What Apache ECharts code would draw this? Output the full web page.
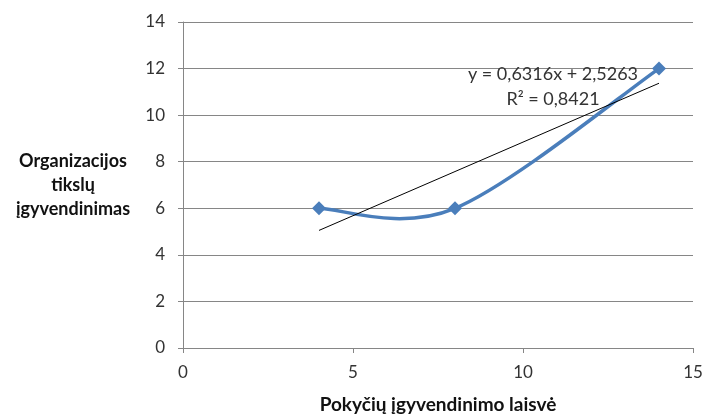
<!DOCTYPE html>
<html>
<head>
<meta charset="utf-8">
<script src="https://cdn.jsdelivr.net/npm/echarts@6/dist/echarts.min.js"></script>
<style>
  html, body { margin: 0; padding: 0; background: #fff; }
  #main { width: 707px; height: 419px; }
</style>
</head>
<body>
<div id="main"></div>
<script>
// data
const xValues = [4, 8, 14];
const yValues = [6, 6, 12];
// linear trendline ends (y = 0,6316x + 2,5263)
const trendX = [4, 14];
const trendY = [5.05, 11.37];
const equationLines = ["y = 0,6316x + 2,5263", "R² = 0,8421"];
const xName = "Pokyčių įgyvendinimo laisvė";
const yName = "Organizacijos\ntikslų\nįgyvendinimas";

const font = "Lato, 'Open Sans', sans-serif";
const gridColor = "#868686";
const blue = "#4a7ebb";

const myChart = echarts.init(document.getElementById("main"));

// Excel-like smoothed line: cubic bezier between points, tangents from neighbours (1/6)
function renderSmooth(params, api) {
  const i = params.dataIndex;
  if (i === 0) return null;
  const pt = (k) => {
    const j = Math.max(0, Math.min(xValues.length - 1, k));
    return api.coord([xValues[j], yValues[j]]);
  };
  const p0 = pt(i - 2), p1 = pt(i - 1), p2 = pt(i), p3 = pt(i + 1);
  return {
    type: "bezierCurve",
    shape: {
      x1: p1[0], y1: p1[1],
      x2: p2[0], y2: p2[1],
      cpx1: p1[0] + (p2[0] - p0[0]) / 6,
      cpy1: p1[1] + (p2[1] - p0[1]) / 6,
      cpx2: p2[0] - (p3[0] - p1[0]) / 6,
      cpy2: p2[1] - (p3[1] - p1[1]) / 6,
    },
    style: { stroke: blue, lineWidth: 3.5, fill: null },
  };
}

let option = {
  animation: false,
  grid: { left: 183, right: 14, top: 22, bottom: 67 },
  xAxis: {
    type: "value",
    min: 0,
    max: 15,
    interval: 5,
    name: xName,
    nameLocation: "middle",
    nameGap: 47,
    nameTextStyle: {
      fontFamily: font,
      fontWeight: "bold",
      fontSize: 19,
      color: "#111",
      verticalAlign: "top",
    },
    axisLine: { show: true, lineStyle: { color: gridColor } },
    axisTick: { show: true, length: 5, lineStyle: { color: gridColor } },
    axisLabel: { fontFamily: font, fontSize: 17, color: "#333", margin: 16 },
    splitLine: { show: false },
  },
  yAxis: {
    type: "value",
    min: 0,
    max: 14,
    interval: 2,
    name: yName,
    nameLocation: "middle",
    nameRotate: 0,
    nameGap: 110,
    nameTextStyle: {
      fontFamily: font,
      fontWeight: "bold",
      fontSize: 18,
      color: "#111",
      align: "center",
      verticalAlign: "middle",
      lineHeight: 24,
    },
    axisLine: { show: true, lineStyle: { color: gridColor } },
    axisTick: { show: true, length: 5, lineStyle: { color: gridColor } },
    axisLabel: { fontFamily: font, fontSize: 17, color: "#333", margin: 18 },
    splitLine: { show: true, lineStyle: { color: gridColor, width: 1 } },
  },
  series: [
    {
      name: "trend",
      type: "line",
      data: trendX.map((x, i) => [x, trendY[i]]),
      symbol: "none",
      lineStyle: { color: "#000", width: 1 },
      z: 3,
    },
    {
      name: "curve",
      type: "custom",
      data: xValues.map((x, i) => [x, yValues[i]]),
      renderItem: renderSmooth,
      z: 2,
    },
    {
      name: "data",
      type: "scatter",
      data: xValues.map((x, i) => [x, yValues[i]]),
      symbol: "diamond",
      symbolSize: 14,
      itemStyle: { color: blue, opacity: 1 },
      z: 4,
    },
  ],
  graphic: [
    {
      type: "text",
      x: 553,
      y: 62,
      z: 10,
      style: {
        text: equationLines.join("\n"),
        font: "18px " + font,
        fill: "#333",
        align: "center",
        lineHeight: 25,
      },
    },
  ],
};

option && myChart.setOption(option);
</script>
</body>
</html>
